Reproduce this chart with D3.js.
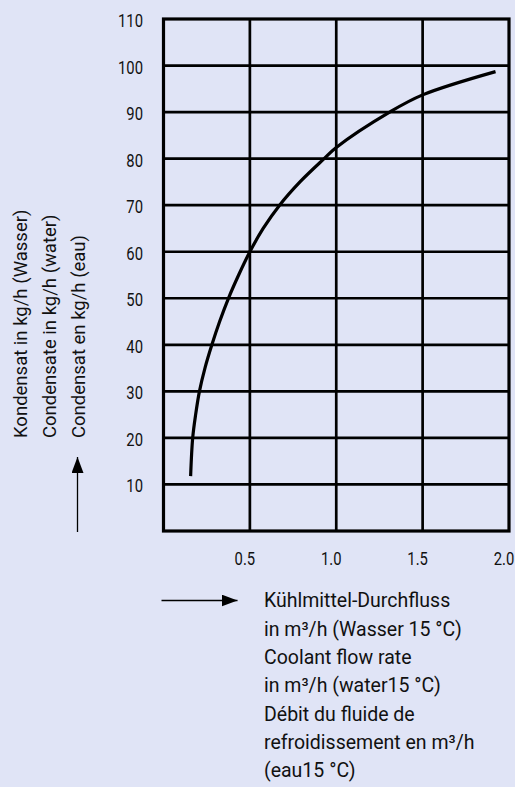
<!DOCTYPE html>
<html>
<head>
<meta charset="utf-8">
<script src="https://cdn.jsdelivr.net/npm/d3@7"></script>
<style>
  html, body { margin: 0; padding: 0; background: #e0e4f6; }
  svg { display: block; }
</style>
</head>
<body>
<svg width="515" height="787"></svg>
<script>
// Condensate vs coolant flow rate

const flowRate = [0.157, 0.169, 0.186, 0.208, 0.24, 0.28, 0.325, 0.376, 0.435, 0.5, 0.577, 0.672, 0.79, 0.93, 1.0, 1.309, 1.5, 1.922];
const condensate = [11.8, 20, 25, 30, 35, 40, 45, 50, 55, 60, 65, 70, 75, 80, 82.4, 90, 93.7, 98.7];

const xTicks = [0.5, 1.0, 1.5, 2.0];
const yTicks = [10, 20, 30, 40, 50, 60, 70, 80, 90, 100, 110];

const yTitle = [
    'Kondensat in kg/h (Wasser)',
    'Condensate in kg/h (water)',
    'Condensat en kg/h (eau)'
];
const xTitle = [
    'Kühlmittel-Durchfluss',
    'in m³/h (Wasser 15 °C)',
    'Coolant flow rate',
    'in m³/h (water15 °C)',
    'Débit du fluide de',
    'refroidissement en m³/h',
    '(eau15 °C)'
];

const svg = d3.select('svg');
const font = 'Roboto, sans-serif';
const textColor = '#111';
// the original face is condensed, so tick digits get squeezed horizontally
const tickSqueeze = 0.8;

const xScale = d3.scaleLinear().domain([0, 2]).range([163.5, 509]);
const yScale = d3.scaleLinear().domain([0, 110]).range([531, 19]);

// Grid
const grid = svg.append('g').attr('stroke', '#000').attr('stroke-width', 2.7);

grid.selectAll('.vline')
    .data(xTicks.slice(0, -1))
    .join('line')
    .attr('class', 'vline')
    .attr('x1', d => xScale(d))
    .attr('x2', d => xScale(d))
    .attr('y1', yScale(0))
    .attr('y2', yScale(110));

grid.selectAll('.hline')
    .data(yTicks.slice(0, -1))
    .join('line')
    .attr('class', 'hline')
    .attr('x1', xScale(0))
    .attr('x2', xScale(2))
    .attr('y1', d => yScale(d))
    .attr('y2', d => yScale(d));

svg.append('rect')
    .attr('x', xScale(0))
    .attr('y', yScale(110))
    .attr('width', xScale(2) - xScale(0))
    .attr('height', yScale(0) - yScale(110))
    .attr('fill', 'none')
    .attr('stroke', '#000')
    .attr('stroke-width', 3.2);

// Tick labels
svg.selectAll('.ytick')
    .data(yTicks)
    .join('text')
    .attr('class', 'ytick')
    .attr('transform', d => `translate(143,${yScale(d) + 1.5}) scale(${tickSqueeze},1)`)
    .attr('dy', '0.35em')
    .attr('text-anchor', 'end')
    .attr('font-family', font)
    .attr('font-size', 18.5)
    .attr('fill', textColor)
    .text(d => d);

svg.selectAll('.xtick')
    .data(xTicks)
    .join('text')
    .attr('class', 'xtick')
    .attr('transform', d => `translate(${xScale(d) - 5},559) scale(${tickSqueeze},1)`)
    .attr('dy', '0.35em')
    .attr('text-anchor', 'middle')
    .attr('font-family', font)
    .attr('font-size', 18.5)
    .attr('fill', textColor)
    .text(d => d.toFixed(1));

// Curve
const line = d3.line()
    .x(d => xScale(d[0]))
    .y(d => yScale(d[1]))
    .curve(d3.curveCatmullRom.alpha(0.5));

svg.append('path')
    .datum(d3.zip(flowRate, condensate))
    .attr('d', line)
    .attr('fill', 'none')
    .attr('stroke', '#000')
    .attr('stroke-width', 3.2);

// Arrow marker
svg.append('defs').append('marker')
    .attr('id', 'arrow')
    .attr('viewBox', '0 0 16 12')
    .attr('refX', 16)
    .attr('refY', 6)
    .attr('markerWidth', 16)
    .attr('markerHeight', 12)
    .attr('markerUnits', 'userSpaceOnUse')
    .attr('orient', 'auto')
    .append('path')
    .attr('d', 'M0,0 L16,6 L0,12 Z')
    .attr('fill', '#000');

// Y title
const yt = svg.append('g').attr('transform', 'translate(27,438) rotate(-90)');
yt.selectAll('text')
    .data(yTitle)
    .join('text')
    .attr('x', 0)
    .attr('y', (d, i) => i * 29)
    .attr('font-family', font)
    .attr('font-size', 18.5)
    .attr('fill', textColor)
    .text(d => d);

svg.append('line')
    .attr('x1', 77.5).attr('x2', 77.5)
    .attr('y1', 532).attr('y2', 457)
    .attr('stroke', '#000')
    .attr('stroke-width', 1.3)
    .attr('marker-end', 'url(#arrow)');

// X title
svg.append('line')
    .attr('x1', 161.5).attr('x2', 237.5)
    .attr('y1', 600.5).attr('y2', 600.5)
    .attr('stroke', '#000')
    .attr('stroke-width', 1.3)
    .attr('marker-end', 'url(#arrow)');

svg.selectAll('.xtitle')
    .data(xTitle)
    .join('text')
    .attr('class', 'xtitle')
    .attr('x', 264)
    .attr('y', (d, i) => 607.3 + i * 28.33)
    .attr('font-family', font)
    .attr('font-size', 19.5)
    .attr('fill', textColor)
    .text(d => d);
</script>
</body>
</html>
